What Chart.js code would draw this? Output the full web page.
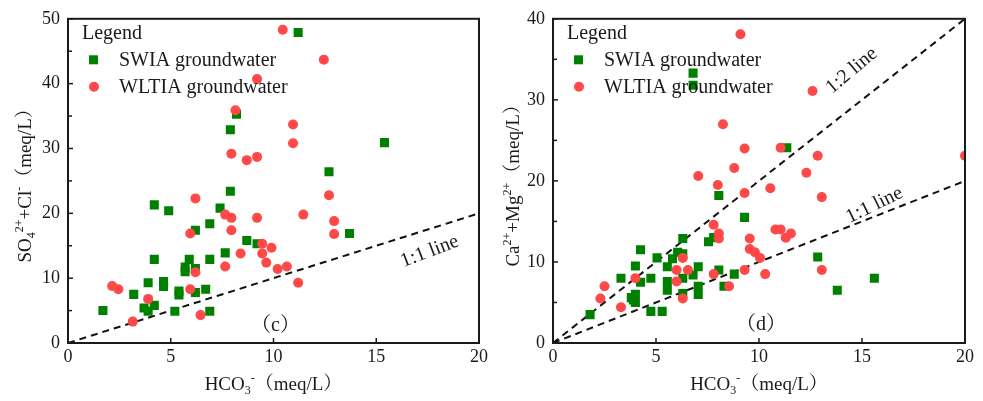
<!DOCTYPE html>
<html><head><meta charset="utf-8">
<script src="https://cdn.jsdelivr.net/npm/chart.js@4.4.1/dist/chart.umd.min.js"></script>
<style>
html,body{margin:0;padding:0;background:#fff;width:983px;height:401px;overflow:hidden}
.w{position:absolute;top:0;height:401px}
</style>
</head><body>
<div class="w" style="left:0;width:491px"><canvas id="c1" width="491" height="401"></canvas></div>
<div class="w" style="left:491px;width:492px"><canvas id="c2" width="492" height="401"></canvas></div>
<script>
// ---------- DATA ----------
const seriesNames = ['SWIA groundwater', 'WLTIA groundwater'];
const legendTitle = 'Legend';

// Panel (c): HCO3- vs SO4 + Cl
const c_swia_x = [1.7,3.2,3.9,4.65,4.65,3.7,3.9,4.2,4.2,4.2,4.9,5.2,5.4,5.4,5.7,5.7,5.9,6.2,6.2,6.2,6.7,6.9,6.9,6.9,7.4,7.65,7.9,8.7,9.2,7.9,8.2,12.7,11.2,15.4,13.7];
const c_swia_y = [5.0,7.5,9.3,9.5,8.7,5.4,4.9,5.8,12.9,21.3,20.4,4.9,8.0,7.4,11.7,11.0,12.9,17.4,11.5,7.8,8.3,12.9,18.4,4.9,20.8,13.9,23.4,15.8,15.3,32.9,35.3,26.4,47.9,30.9,16.9];
const c_wltia_x = [2.15,2.45,3.15,3.9,6.2,5.95,6.45,7.65,8.4,9.45,9.9,9.45,9.65,10.2,10.65,11.2,5.95,6.2,7.65,7.95,7.95,9.2,11.45,12.7,12.95,12.95,8.15,10.95,10.95,7.95,8.7,9.2,9.2,10.45,12.45];
const c_wltia_y = [8.8,8.3,3.3,6.8,10.9,8.3,4.3,11.8,13.8,15.3,14.7,13.8,12.4,11.4,11.8,9.3,16.9,22.3,19.8,19.3,17.4,19.3,19.8,22.8,18.8,16.8,35.9,33.7,30.8,29.2,28.2,28.7,40.7,48.3,43.7];

// Panel (d): HCO3- vs Ca + Mg
const d_swia_x = [1.8,3.3,4.0,4.25,4.25,3.8,4.0,4.0,3.9,4.75,4.75,5.3,5.05,5.55,5.55,5.55,5.8,6.05,6.3,6.3,6.3,6.3,6.8,7.05,7.05,7.05,7.55,7.8,8.05,8.3,8.8,8.05,9.3,12.85,13.8,15.6,6.8,6.8,11.35];
const d_swia_y = [3.5,8.0,9.5,11.5,7.5,5.6,6.0,5.0,5.3,8.0,3.9,3.9,10.5,7.6,6.5,9.4,10.4,11.2,12.9,11.0,8.0,6.1,8.4,9.4,7.0,6.0,12.5,13.0,9.0,7.0,8.5,18.2,15.5,10.6,6.5,8.0,33.3,31.8,24.1];
const d_wltia_x = [2.5,2.3,3.3,4.0,6.0,6.0,6.3,6.55,6.3,7.8,8.55,9.3,10.3,9.55,9.8,10.05,9.55,7.8,8.05,8.05,10.8,11.05,11.3,11.55,13.05,13.05,10.55,12.3,9.3,8.0,7.05,8.8,12.85,12.6,11.05,20,9.1,8.25,9.3];
const d_wltia_y = [7.0,5.5,4.4,8.0,9.0,7.6,10.5,9.0,5.5,8.5,7.0,9.0,8.5,11.6,11.2,10.5,12.9,14.6,13.5,12.9,14.0,14.0,13.0,13.5,9.0,18.0,19.1,21.0,18.5,19.5,20.6,21.6,23.1,31.1,24.1,23.1,38.1,27.0,24.0];

// Reference lines (ratio of y to x) and axis ranges / ticks
const xRange = [0, 20], xStep = 5;
const c_yRange = [0, 50], d_yRange = [0, 40], yStep = 10;
const c_lines = [{ratio: 1, label: '1:1 line'}];
const d_lines = [{ratio: 2, label: '1:2 line'}, {ratio: 1, label: '1:1 line'}];
const panelLabels = ['（c）', '（d）'];

// Axis titles as rich-text runs: [text, mode] mode 0 normal, 1 subscript, 2 superscript
const xTitle = [['HCO', 0], ['3', 1], ['-', 2], ['（meq/L）', 0]];
const c_yTitle = [['SO', 0], ['4', 1], ['2+', 2], ['+Cl', 0], ['-', 2], ['（meq/L）', 0]];
const d_yTitle = [['Ca', 0], ['2+', 2], ['+Mg', 0], ['2+', 2], ['（meq/L）', 0]];

// ---------- STYLE ----------
const GREEN = 'rgb(0,128,0)';
const RED = 'rgb(255,72,72)';
const FAM = "'Liberation Serif','Times New Roman','Noto Serif CJK SC','Noto Sans CJK SC',serif";
const TXT = '#1a1a1a';

function pts(xs, ys) { return xs.map((x, i) => ({x, y: ys[i]})); }

function richText(ctx, runs, cx, cy, rot, size) {
  ctx.save();
  ctx.translate(cx, cy);
  ctx.rotate(rot);
  let w = 0;
  const parts = runs.map(([t, m]) => {
    const s = m ? Math.round(size * 0.62) : size;
    ctx.font = `${s}px ${FAM}`;
    const pw = ctx.measureText(t).width;
    w += pw;
    return {t, m, s, pw};
  });
  let x = -w / 2;
  ctx.fillStyle = TXT;
  ctx.textBaseline = 'alphabetic';
  ctx.textAlign = 'left';
  parts.forEach(p => {
    ctx.font = `${p.s}px ${FAM}`;
    const dy = p.m === 1 ? size * 0.22 : p.m === 2 ? -size * 0.42 : 0;
    ctx.fillText(p.t, x, size * 0.35 + dy);
    x += p.pw;
  });
  ctx.restore();
}

const decorPlugin = {
  id: 'decor',
  afterDatasetsDraw(chart) {
    const o = chart.options.plugins.decor;
    const {ctx, chartArea: a, scales: {x, y}} = chart;
    ctx.save();
    // inward ticks
    ctx.strokeStyle = '#1a1a1a';
    ctx.lineWidth = 1.5;
    x.ticks.forEach(t => {
      const px = x.getPixelForValue(t.value);
      ctx.beginPath(); ctx.moveTo(px, a.bottom); ctx.lineTo(px, a.bottom - 5); ctx.stroke();
    });
    y.ticks.forEach(t => {
      const py = y.getPixelForValue(t.value);
      ctx.beginPath(); ctx.moveTo(a.left, py); ctx.lineTo(a.left + 5, py); ctx.stroke();
      const mv = t.value + yStep / 2;
      if (mv < y.max) {
        const pm = y.getPixelForValue(mv);
        ctx.beginPath(); ctx.moveTo(a.left, pm); ctx.lineTo(a.left + 4, pm); ctx.stroke();
      }
    });
    // frame
    ctx.lineWidth = 2;
    ctx.strokeRect(a.left, a.top, a.right - a.left, a.bottom - a.top);

    // line annotations
    ctx.fillStyle = TXT;
    ctx.font = `20px ${FAM}`;
    ctx.textAlign = 'center';
    ctx.textBaseline = 'middle';
    o.notes.forEach(n => {
      ctx.save();
      ctx.translate(x.getPixelForValue(n.x), y.getPixelForValue(n.y));
      ctx.rotate(n.rot * Math.PI / 180);
      ctx.fillText(n.text, 0, 0);
      ctx.restore();
    });

    // legend
    const lx = a.left, ly = a.top;
    ctx.textAlign = 'left';
    ctx.font = `20px ${FAM}`;
    ctx.fillText(legendTitle, lx + 14, ly + 15);
    const sets = chart.data.datasets.filter(d => d.inLegend);
    sets.forEach((d, i) => {
      const my = ly + 41 + i * 27;
      ctx.fillStyle = d.backgroundColor;
      if (d.pointStyle === 'rect') {
        ctx.fillRect(lx + 21, my - 4.5, 9, 9);
      } else {
        ctx.beginPath(); ctx.arc(lx + 26, my, 5, 0, Math.PI * 2); ctx.fill();
      }
      ctx.fillStyle = TXT;
      ctx.fillText(d.label, lx + 51, my + 1);
    });

    // axis titles
    richText(ctx, xTitle, (a.left + a.right) / 2, chart.height - 18, 0, 19);
    richText(ctx, o.yTitle, o.yTitleX, (a.top + a.bottom) / 2, -Math.PI / 2, 19);
    ctx.restore();
  }
};

function makeChart(id, swiaX, swiaY, wltiaX, wltiaY, yRange, lines, yTitle, yTitleX, notes, yW, padR) {
  const datasets = [];
  datasets.push({
    label: seriesNames[1], data: pts(wltiaX, wltiaY), inLegend: true,
    backgroundColor: RED, borderWidth: 0, pointStyle: 'circle', pointRadius: 5, pointHoverRadius: 5,
    order: 1, clip: 0
  });
  datasets.push({
    label: seriesNames[0], data: pts(swiaX, swiaY), inLegend: true,
    backgroundColor: GREEN, borderWidth: 0, pointStyle: 'rect', pointRadius: 6.4, pointHoverRadius: 6.4,
    order: 2, clip: 0
  });
  lines.forEach(l => {
    const xe = Math.min(xRange[1], yRange[1] / l.ratio);
    datasets.push({
      type: 'line', label: l.label, inLegend: false,
      data: [{x: 0, y: 0}, {x: xe, y: xe * l.ratio}],
      borderColor: '#111', borderWidth: 2, borderDash: [7, 5], pointRadius: 0, fill: false, order: 3
    });
  });
  // legend lists SWIA first
  datasets.sort((a, b) => (a.label === seriesNames[0] ? -1 : 0));
  return new Chart(document.getElementById(id), {
    type: 'scatter',
    data: {datasets},
    plugins: [decorPlugin],
    options: {
      responsive: false, animation: false, devicePixelRatio: 1,
      layout: {padding: {top: 16, right: padR, left: 0, bottom: 0}},
      plugins: {legend: {display: false}, tooltip: {enabled: false},
        decor: {yTitle, yTitleX, notes}},
      scales: {
        x: {
          type: 'linear', min: xRange[0], max: xRange[1],
          ticks: {stepSize: xStep, color: TXT, font: {family: FAM, size: 18}, padding: 3},
          grid: {display: false, drawTicks: false},
          border: {display: false},
          afterFit(s) { s.height = 58; }
        },
        y: {
          type: 'linear', min: yRange[0], max: yRange[1],
          ticks: {stepSize: yStep, color: TXT, font: {family: FAM, size: 18}, padding: 8},
          grid: {display: false, drawTicks: false},
          border: {display: false},
          afterFit(s) { s.width = yW; }
        }
      }
    }
  });
}

makeChart('c1', c_swia_x, c_swia_y, c_wltia_x, c_wltia_y, c_yRange, c_lines, c_yTitle, 24,
  [{x: 17.6, y: 14.1, rot: -21, text: c_lines[0].label},
   {x: 10.1, y: 2.6, rot: 0, text: panelLabels[0]}], 68, 10);
makeChart('c2', d_swia_x, d_swia_y, d_wltia_x, d_wltia_y, d_yRange, d_lines, d_yTitle, 21,
  [{x: 14.5, y: 33.6, rot: -40, text: d_lines[0].label},
   {x: 15.6, y: 17.0, rot: -26, text: d_lines[1].label},
   {x: 10.1, y: 2.2, rot: 0, text: panelLabels[1]}], 62, 18);
</script>
</body></html>
